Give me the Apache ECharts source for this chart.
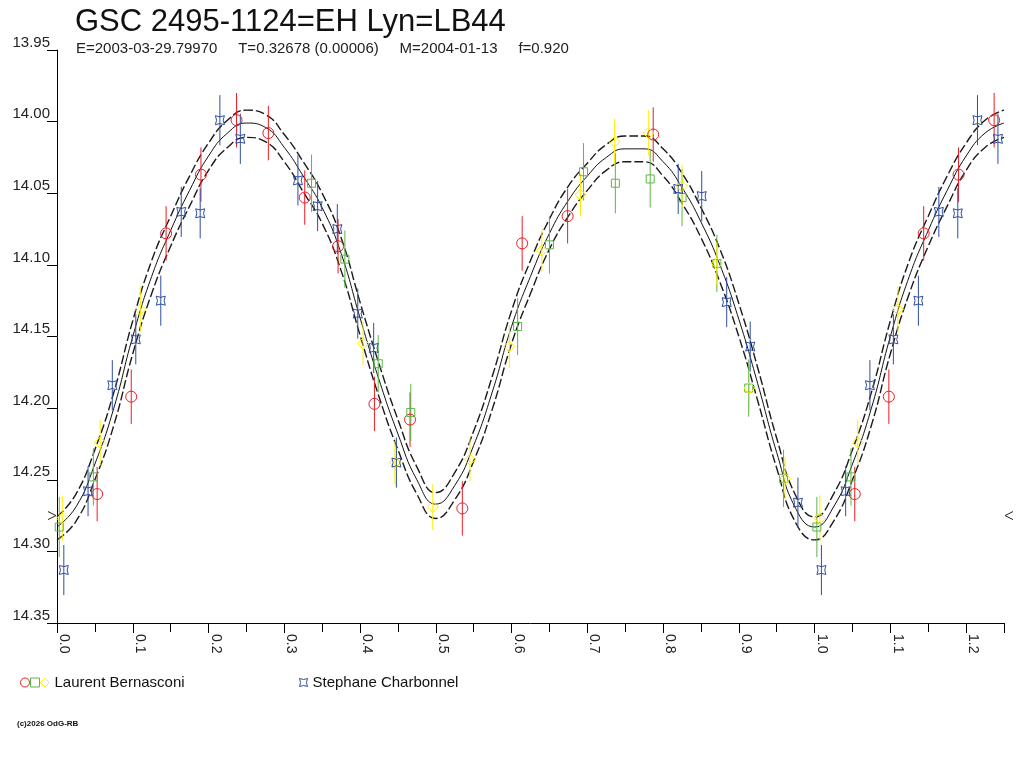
<!DOCTYPE html>
<html>
<head>
<meta charset="utf-8">
<title>GSC 2495-1124=EH Lyn=LB44</title>
<script src="https://cdn.jsdelivr.net/npm/echarts@6/dist/echarts.min.js"></script>
<style>
html, body { margin: 0; padding: 0; background: #fff; }
#main { width: 1024px; height: 768px; }
</style>
</head>
<body>
<div id="main"></div>
<script>
// fitted light curve (phase 0..1, repeated to 1.25)
var fitPhase = [0, 0.025, 0.05, 0.075, 0.1, 0.125, 0.15, 0.175, 0.2, 0.225,
    0.25, 0.275, 0.3, 0.325, 0.35, 0.375, 0.4, 0.425, 0.45, 0.475,
    0.5, 0.525, 0.55, 0.575, 0.6, 0.625, 0.65, 0.675, 0.7, 0.725,
    0.75, 0.775, 0.8, 0.825, 0.85, 0.875, 0.9, 0.925, 0.95, 0.975, 1.0];
var fitMag = [14.283, 14.269, 14.239, 14.200, 14.150, 14.108, 14.076, 14.048, 14.024, 14.008,
    14.001, 14.004, 14.018, 14.038, 14.060, 14.092, 14.137, 14.180, 14.218, 14.250,
    14.267, 14.254, 14.226, 14.188, 14.143, 14.108, 14.078, 14.055, 14.038, 14.025,
    14.019, 14.019, 14.028, 14.046, 14.070, 14.100, 14.138, 14.183, 14.231, 14.270, 14.283];
var fitUpper = [14.276, 14.260, 14.229, 14.189, 14.139, 14.097, 14.066, 14.038, 14.015, 13.999,
    13.992, 13.995, 14.009, 14.028, 14.050, 14.081, 14.126, 14.169, 14.208, 14.241,
    14.259, 14.245, 14.216, 14.177, 14.132, 14.097, 14.068, 14.045, 14.029, 14.016,
    14.010, 14.010, 14.019, 14.036, 14.060, 14.089, 14.127, 14.172, 14.221, 14.261, 14.276];
var fitLower = [14.292, 14.279, 14.250, 14.212, 14.162, 14.120, 14.087, 14.059, 14.034, 14.018,
    14.011, 14.014, 14.028, 14.049, 14.071, 14.104, 14.149, 14.192, 14.229, 14.260,
    14.277, 14.264, 14.237, 14.200, 14.155, 14.120, 14.089, 14.066, 14.048, 14.034,
    14.028, 14.028, 14.038, 14.057, 14.081, 14.112, 14.150, 14.195, 14.242, 14.280, 14.292];

// Laurent Bernasconi - red circles
var redPhase = [0.053, 0.098, 0.144, 0.190, 0.237, 0.279, 0.327, 0.371, 0.419, 0.466, 0.535, 0.614, 0.674, 0.787];
var redMag = [14.260, 14.192, 14.078, 14.037, 13.999, 14.008, 14.053, 14.087, 14.197, 14.208, 14.270, 14.085, 14.066, 14.009];
var redErr = [0.019, 0.019, 0.019, 0.019, 0.019, 0.019, 0.019, 0.019, 0.019, 0.019, 0.019, 0.019, 0.019, 0.019];

// Laurent Bernasconi - green squares
var greenPhase = [0.003, 0.048, 0.336, 0.380, 0.424, 0.467, 0.608, 0.650, 0.695, 0.737, 0.783, 0.825, 0.871, 0.913, 0.959];
var greenMag = [14.283, 14.248, 14.043, 14.096, 14.169, 14.203, 14.143, 14.086, 14.035, 14.043, 14.040, 14.053, 14.099, 14.186, 14.249];
var greenErr = [0.021, 0.020, 0.020, 0.020, 0.020, 0.020, 0.020, 0.020, 0.020, 0.021, 0.020, 0.020, 0.020, 0.020, 0.020];

// Laurent Bernasconi - yellow diamonds
var yellowPhase = [0.007, 0.057, 0.110, 0.404, 0.446, 0.496, 0.545, 0.597, 0.640, 0.691, 0.736, 0.781, 0.825, 0.871, 0.914, 0.961];
var yellowMag = [14.277, 14.224, 14.131, 14.155, 14.238, 14.269, 14.236, 14.157, 14.090, 14.051, 14.014, 14.008, 14.045, 14.099, 14.186, 14.249];
var yellowErr = [0.016, 0.016, 0.016, 0.015, 0.015, 0.016, 0.015, 0.015, 0.015, 0.015, 0.016, 0.016, 0.015, 0.015, 0.016, 0.015];

// Stephane Charbonnel - blue
var bluePhase = [0.009, 0.041, 0.073, 0.104, 0.137, 0.164, 0.189, 0.215, 0.242, 0.318, 0.344, 0.370, 0.397, 0.418, 0.448, 0.820, 0.851, 0.884, 0.915, 0.978];
var blueMag = [14.313, 14.258, 14.184, 14.152, 14.125, 14.063, 14.064, 13.999, 14.012, 14.041, 14.059, 14.075, 14.134, 14.158, 14.238, 14.047, 14.052, 14.126, 14.157, 14.266];
var blueErr = [0.0175, 0.0175, 0.0175, 0.0175, 0.0175, 0.0175, 0.0175, 0.0175, 0.0175, 0.0175, 0.0175, 0.0175, 0.0175, 0.0175, 0.0175, 0.0175, 0.0175, 0.0175, 0.0175, 0.0175];

// level of the side markers
var markMag = 14.275;

var xTicks = { min: 0, max: 1.25, step: 0.1 };
var yTicks = { min: 13.95, max: 14.35, step: 0.05 };

var RED = '#ec1c24', GREEN = '#5cb646', YELLOW = '#ffee00', BLUE = '#2f4ea2';
var FONT = '"Liberation Sans", Arial, sans-serif';
var starPath = 'path://M0,0 Q5,2.6 10,0 Q7.4,5 10,10 Q5,7.4 0,10 Q2.6,5 0,0 Z';

// phase diagram: points with phase < 0.25 are shown again after 1.0
function fold(ph, mg, er) {
    var out = [];
    for (var i = 0; i < ph.length; i++) {
        out.push([ph[i], mg[i], er[i]]);
        if (ph[i] < 0.25) out.push([ph[i] + 1, mg[i], er[i]]);
    }
    return out;
}
function curve(mags) {
    var out = [];
    for (var i = 0; i < fitPhase.length; i++) out.push([fitPhase[i], mags[i]]);
    for (var j = 1; j < fitPhase.length && fitPhase[j] <= 0.25; j++) out.push([fitPhase[j] + 1, mags[j]]);
    return out;
}

function errSeries(name, data, color) {
    return {
        name: name,
        type: 'custom',
        data: data,
        encode: { x: 0, y: 1 },
        z: 3,
        renderItem: function(params, api) {
            var x = api.value(0), m = api.value(1), e = api.value(2);
            var a = api.coord([x, m - e]);
            var b = api.coord([x, m + e]);
            return {
                type: 'line',
                shape: { x1: a[0], y1: a[1], x2: b[0], y2: b[1] },
                style: { stroke: color, lineWidth: 1 }
            };
        }
    };
}
function pointSeries(name, data, color, symbol, size) {
    return {
        name: name,
        type: 'scatter',
        data: data,
        symbol: symbol,
        symbolSize: size,
        z: 4,
        itemStyle: { color: 'rgba(0,0,0,0)', borderColor: color, borderWidth: 1, opacity: 1 }
    };
}
function lineSeries(name, data, dashed) {
    return {
        name: name,
        type: 'line',
        data: data,
        smooth: true,
        showSymbol: false,
        silent: true,
        z: 2,
        lineStyle: dashed ? { color: '#1a1a1a', width: 1.4, type: [9, 3] } : { color: '#111', width: 1 }
    };
}

var redData = fold(redPhase, redMag, redErr);
var greenData = fold(greenPhase, greenMag, greenErr);
var yellowData = fold(yellowPhase, yellowMag, yellowErr);
var blueData = fold(bluePhase, blueMag, blueErr);

var chart = echarts.init(document.getElementById('main'));

var option = {
    backgroundColor: '#fff',
    animation: false,
    title: [
        {
            text: 'GSC 2495-1124=EH Lyn=LB44',
            left: 70, top: 2,
            textStyle: { fontSize: 31, fontWeight: 'normal', color: '#111', fontFamily: FONT }
        },
        {
            text: 'E=2003-03-29.79970     T=0.32678 (0.00006)     M=2004-01-13     f=0.920',
            left: 71, top: 36,
            textStyle: { fontSize: 15, fontWeight: 'normal', color: '#222', fontFamily: FONT }
        },
        {
            text: '(c)2026 OdG-RB',
            left: 12, top: 715,
            textStyle: { fontSize: 8, fontWeight: 'bold', color: '#111', fontFamily: FONT }
        }
    ],
    legend: [
        {
            left: 15, top: 670,
            itemWidth: 9, itemHeight: 9, itemGap: 0,
            selectedMode: false,
            textStyle: { fontSize: 15, color: '#111', fontFamily: FONT },
            formatter: function(n) { return n.indexOf('LB_') === 0 ? '' : n; },
            data: [
                { name: 'LB_R', icon: 'circle', itemStyle: { color: 'rgba(0,0,0,0)', borderColor: RED, borderWidth: 1 } },
                { name: 'LB_G', icon: 'rect', itemStyle: { color: 'rgba(0,0,0,0)', borderColor: GREEN, borderWidth: 1 } },
                { name: 'Laurent Bernasconi', icon: 'diamond', itemStyle: { color: 'rgba(0,0,0,0)', borderColor: YELLOW, borderWidth: 1 } }
            ]
        },
        {
            left: 294, top: 670,
            itemWidth: 8, itemHeight: 8,
            selectedMode: false,
            textStyle: { fontSize: 15, color: '#111', fontFamily: FONT },
            data: [
                { name: 'Stephane Charbonnel', icon: starPath, itemStyle: { color: 'rgba(0,0,0,0)', borderColor: BLUE, borderWidth: 1 } }
            ]
        }
    ],
    grid: { left: 57, right: 20, top: 50, bottom: 145 },
    xAxis: {
        type: 'value',
        min: xTicks.min, max: xTicks.max, interval: xTicks.step,
        axisLine: { show: true, onZero: false, lineStyle: { color: '#000', width: 1 } },
        axisTick: { show: true, length: 10, lineStyle: { color: '#000' } },
        minorTick: { show: true, splitNumber: 2, length: 9, lineStyle: { color: '#000' } },
        axisLabel: {
            rotate: -90,
            verticalAlign: 'bottom',
            margin: 11,
            fontSize: 14,
            color: '#222',
            fontFamily: FONT,
            showMaxLabel: false,
            formatter: function(v) { return v.toFixed(1); }
        },
        splitLine: { show: false }
    },
    yAxis: {
        type: 'value',
        inverse: true,
        min: yTicks.min, max: yTicks.max, interval: yTicks.step,
        axisLine: { show: true, onZero: false, lineStyle: { color: '#000', width: 1 } },
        axisTick: { show: true, length: 10, lineStyle: { color: '#000' } },
        axisLabel: {
            margin: 7,
            verticalAlign: 'bottom',
            fontSize: 15,
            color: '#222',
            fontFamily: FONT,
            formatter: function(v) { return v.toFixed(2); }
        },
        splitLine: { show: false }
    },
    series: [
        lineSeries('fit', curve(fitMag), false),
        lineSeries('fitUpper', curve(fitUpper), true),
        lineSeries('fitLower', curve(fitLower), true),
        errSeries('err_R', redData, RED),
        errSeries('err_G', greenData, GREEN),
        errSeries('err_Y', yellowData, YELLOW),
        errSeries('err_B', blueData, BLUE),
        pointSeries('LB_R', redData, RED, 'circle', 11),
        pointSeries('LB_G', greenData, GREEN, 'rect', 8),
        pointSeries('Laurent Bernasconi', yellowData, YELLOW, 'diamond', 11),
        pointSeries('Stephane Charbonnel', blueData, BLUE, starPath, 9),
        {
            name: 'marks',
            type: 'custom',
            silent: true,
            clip: false,
            z: 5,
            data: [[xTicks.min, markMag, 0], [xTicks.max, markMag, 1]],
            encode: { x: 0, y: 1 },
            renderItem: function(params, api) {
                var p = api.coord([api.value(0), api.value(1)]);
                var s = api.value(2) === 0 ? -1 : 1;
                return {
                    type: 'polyline',
                    shape: { points: [[p[0] + s * 9, p[1] - 4], [p[0] + s * 1, p[1]], [p[0] + s * 9, p[1] + 4]] },
                    style: { stroke: '#222', lineWidth: 1, fill: null }
                };
            }
        }
    ]
};

chart.setOption(option);
</script>
</body>
</html>
